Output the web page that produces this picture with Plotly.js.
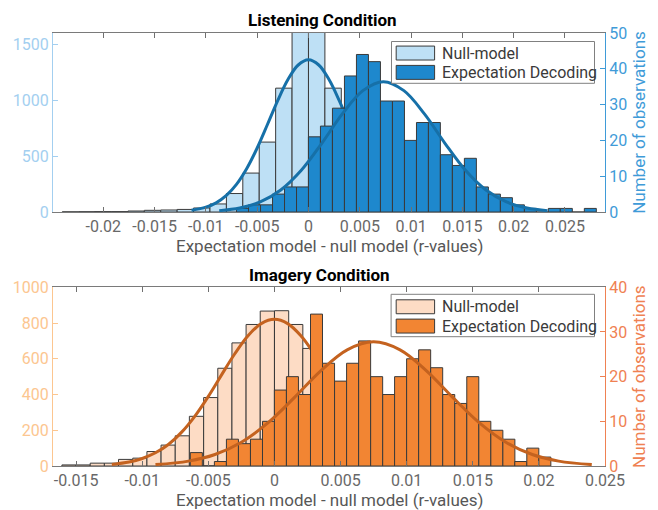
<!DOCTYPE html>
<html>
<head>
<meta charset="utf-8">
<script src="https://cdn.plot.ly/plotly-3.0.1.min.js"></script>
<style>
  html, body { margin: 0; padding: 0; background: #ffffff; }
  #chart { width: 658px; height: 510px; }
</style>
</head>
<body>
<div id="chart"></div>
<script>
// ---------- Listening condition ----------
// Null-model histogram (bin centres, counts; bin width 0.0016)
const listenNullWidth = 0.0016;
const listenNullX = [-0.0232, -0.0216, -0.0200, -0.0184, -0.0168, -0.0152, -0.0136, -0.0120,
  -0.0104, -0.0088, -0.0072, -0.0056, -0.0040, -0.0024, -0.0008, 0.0008, 0.0024, 0.0040,
  0.0056, 0.0072, 0.0088, 0.0104, 0.0120];
const listenNullN = [1, 2, 3, 3, 9, 15, 18, 23, 36, 72, 165, 348, 625, 1107, 1640, 1620, 1107, 610,
  330, 150, 70, 30, 15];

// Expectation decoding histogram (bin width 0.001169)
const listenExpWidth = 0.001169;
const listenExpX = [-0.00643, -0.00526, -0.00409, -0.00292, -0.00175, -0.00058, 0.00058, 0.00175,
  0.00292, 0.00409, 0.00526, 0.00643, 0.00760, 0.00877, 0.00994, 0.01111, 0.01227, 0.01344,
  0.01461, 0.01578, 0.01695, 0.01812, 0.01929, 0.02046, 0.02163, 0.02280, 0.02396, 0.02513,
  0.02630, 0.02747];
const listenExpN = [1, 2, 2, 5, 7, 7, 21, 24, 29, 38, 44, 42, 31, 31, 20, 25, 25, 16, 13, 15, 7, 5,
  4, 2, 1, 0, 1, 1, 0, 1];

// Normal fits drawn over each histogram
const listenNullFitX = [-0.0114, -0.010, -0.009, -0.008, -0.007, -0.006, -0.005, -0.004, -0.003,
  -0.002, -0.001, 0, 0.001, 0.002, 0.003, 0.004, 0.005, 0.006, 0.007, 0.008, 0.009, 0.010, 0.0114];
const listenNullFitY = [15, 43, 82, 148, 249, 391, 572, 782, 996, 1184, 1314, 1360, 1314, 1184, 996,
  782, 572, 391, 249, 148, 82, 43, 15];
const listenExpFitX = [-0.0087, -0.0067, -0.0047, -0.0027, -0.0007, 0.0013, 0.0033, 0.0053, 0.0073,
  0.0093, 0.0113, 0.0133, 0.0153, 0.0173, 0.0193, 0.0213, 0.0233];
const listenExpFitY = [0.38, 1.11, 2.81, 6.14, 11.65, 19.2, 27.4, 33.9, 36.4, 33.9, 27.4, 19.2, 11.65,
  6.14, 2.81, 1.11, 0.38];

// ---------- Imagery condition ----------
const imageryNullWidth = 0.001072;
const imageryNullX = [-0.01554, -0.01447, -0.01340, -0.01233, -0.01126, -0.01018, -0.00911, -0.00804,
  -0.00697, -0.00590, -0.00482, -0.00375, -0.00268, -0.00161, -0.00054, 0.00054, 0.00161, 0.00268,
  0.00375, 0.00482, 0.00590, 0.00697, 0.00804, 0.00911, 0.01018];
const imageryNullN = [6, 6, 16, 16, 37, 44, 81, 117, 169, 278, 383, 547, 689, 792, 867, 869, 792, 658,
  520, 380, 260, 160, 90, 45, 20];

const imageryExpWidth = 0.000909;
const imageryExpX = [-0.00591, -0.00500, -0.00409, -0.00318, -0.00227, -0.00136, -0.00045, 0.00045,
  0.00136, 0.00227, 0.00318, 0.00409, 0.00500, 0.00591, 0.00682, 0.00773, 0.00864, 0.00954,
  0.01045, 0.01136, 0.01227, 0.01318, 0.01409, 0.01500, 0.01591, 0.01682, 0.01773, 0.01863,
  0.01954, 0.02045];
const imageryExpN = [3, 0, 1, 6, 5, 6, 10, 17, 20, 16, 34, 23, 19, 23, 28, 20, 16, 20, 24, 26, 22, 16,
  14, 20, 10, 8, 6, 1, 4, 2];

const imageryNullFitX = [-0.0123, -0.011, -0.010, -0.009, -0.008, -0.007, -0.006, -0.005, -0.004,
  -0.003, -0.002, -0.001, 0, 0.001, 0.002, 0.003, 0.004, 0.005, 0.006, 0.007, 0.008, 0.009, 0.010,
  0.011, 0.0123];
const imageryNullFitY = [9, 22, 42, 74, 122, 191, 281, 390, 510, 628, 729, 797, 821, 797, 729, 628, 510,
  390, 281, 191, 122, 74, 42, 22, 9];
const imageryExpFitX = [-0.009, -0.0065, -0.0045, -0.0025, -0.0005, 0.0015, 0.0035, 0.0055, 0.0075,
  0.0095, 0.0115, 0.0135, 0.0155, 0.0175, 0.0195, 0.0215, 0.024];
const imageryExpFitY = [0.31, 1.09, 2.57, 5.32, 9.65, 15.3, 21.3, 26.0, 27.8, 26.0, 21.3, 15.3, 9.65,
  5.32, 2.57, 1.09, 0.31];

// ---------- Ticks and labels ----------
const listenTickVals = [-0.02, -0.015, -0.01, -0.005, 0, 0.005, 0.01, 0.015, 0.02, 0.025];
const listenTickText = ['-0.02', '-0.015', '-0.01', '-0.005', '0', '0.005', '0.01', '0.015', '0.02', '0.025'];
const imageryTickVals = [-0.015, -0.01, -0.005, 0, 0.005, 0.01, 0.015, 0.02, 0.025];
const imageryTickText = ['-0.015', '-0.01', '-0.005', '0', '0.005', '0.01', '0.015', '0.02', '0.025'];
const listenCountTicks = [0, 500, 1000, 1500];
const listenObsTicks = [0, 10, 20, 30, 40, 50];
const imageryCountTicks = [0, 200, 400, 600, 800, 1000];
const imageryObsTicks = [0, 10, 20, 30, 40];
const panelTitles = ['Listening Condition', 'Imagery Condition'];
const legendLabels = ['Null-model', 'Expectation Decoding'];
const xTitle = 'Expectation model - null model (r-values)';
const obsTitle = 'Number of observations';

// ---------- Styling ----------
const FONT = "Roboto, 'DejaVu Sans', sans-serif";
const EDGE = '#3a3a3a';
const blue = { light: '#bee0f5', dark: '#1e88cd', fit: '#1670a8', leftAxis: '#a3cff0', rightAxis: '#3f9bd8' };
const orange = { light: '#fddcc5', dark: '#f28533', fit: '#c4621f', leftAxis: '#fcc690', rightAxis: '#ef8152' };

function bars(x, y, w, fill, xa, ya) {
  return { type: 'bar', x: x, y: y, width: w, xaxis: xa, yaxis: ya,
    marker: { color: fill, line: { color: EDGE, width: 1 } },
    showlegend: false, hoverinfo: 'skip' };
}
function fitLine(x, y, color, xa, ya) {
  return { type: 'scatter', mode: 'lines', x: x, y: y, xaxis: xa, yaxis: ya,
    line: { color: color, width: 3, shape: 'spline', smoothing: 1 },
    showlegend: false, hoverinfo: 'skip' };
}

const traces = [
  bars(listenNullX, listenNullN, listenNullWidth, blue.light, 'x', 'y'),
  fitLine(listenNullFitX, listenNullFitY, blue.fit, 'x', 'y'),
  bars(listenExpX, listenExpN, listenExpWidth, blue.dark, 'x', 'y2'),
  fitLine(listenExpFitX, listenExpFitY, blue.fit, 'x', 'y2'),
  bars(imageryNullX, imageryNullN, imageryNullWidth, orange.light, 'x2', 'y3'),
  fitLine(imageryNullFitX, imageryNullFitY, orange.fit, 'x2', 'y3'),
  bars(imageryExpX, imageryExpN, imageryExpWidth, orange.dark, 'x2', 'y4'),
  fitLine(imageryExpFitX, imageryExpFitY, orange.fit, 'x2', 'y4')
];

function xAxis(range, vals, text, anchor) {
  return { anchor: anchor, domain: [0, 1], range: range, tickmode: 'array', tickvals: vals, ticktext: text,
    ticks: 'inside', ticklen: 5, tickcolor: '#707070', showline: true, linecolor: '#7a7a7a', linewidth: 1,
    mirror: 'ticks', showgrid: false, zeroline: false,
    tickfont: { family: FONT, size: 16, color: '#686868' } };
}
function leftAxis(domain, range, vals, color, anchor) {
  return { anchor: anchor, domain: domain, range: range, tickmode: 'array', tickvals: vals,
    ticks: 'inside', ticklen: 5, tickcolor: color, showline: true, linecolor: color, linewidth: 1,
    showgrid: false, zeroline: false, tickfont: { family: FONT, size: 16, color: color } };
}
function rightAxis(over, range, vals, color, anchor) {
  return { overlaying: over, side: 'right', anchor: anchor, range: range, tickmode: 'array', tickvals: vals,
    ticks: 'inside', ticklen: 5, tickcolor: color, showline: true, linecolor: color, linewidth: 1,
    showgrid: false, zeroline: false, tickfont: { family: FONT, size: 16, color: color },
    title: { text: obsTitle, font: { family: FONT, size: 17, color: color }, standoff: 6 } };
}

// Legend box for one panel, placed in that panel's domain coordinates
function legendParts(xr, yr, box, rows, lightFill, darkFill) {
  const shapes = [
    { type: 'rect', xref: xr, yref: yr, x0: box[0], x1: box[1], y0: box[2], y1: box[3],
      fillcolor: '#ffffff', line: { color: '#808080', width: 1 } },
    { type: 'rect', xref: xr, yref: yr, x0: 0.6217, x1: 0.6913, y0: rows[0] - 0.039, y1: rows[0] + 0.039,
      fillcolor: lightFill, line: { color: EDGE, width: 1 } },
    { type: 'rect', xref: xr, yref: yr, x0: 0.6217, x1: 0.6913, y0: rows[1] - 0.039, y1: rows[1] + 0.039,
      fillcolor: darkFill, line: { color: EDGE, width: 1 } }
  ];
  const notes = legendLabels.map((t, i) => ({
    xref: xr, yref: yr, x: 0.7005, y: rows[i], xanchor: 'left', yanchor: 'middle', showarrow: false,
    text: t, font: { family: FONT, size: 16, color: '#3a3a3a' } }));
  return { shapes: shapes, notes: notes };
}

const topLegend = legendParts('x domain', 'y domain', [0.6132, 0.981, 0.719, 0.9525], [0.888, 0.780],
  blue.light, blue.dark);
const bottomLegend = legendParts('x2 domain', 'y3 domain', [0.6125, 0.981, 0.7236, 0.9608], [0.891, 0.783],
  orange.light, orange.dark);

// Panel titles and the shared x-axis caption under each panel
const titleNotes = [
  { xref: 'paper', yref: 'paper', x: 0.488, y: 1.030, xanchor: 'center', yanchor: 'middle', showarrow: false,
    text: '<b>' + panelTitles[0] + '</b>', font: { family: FONT, size: 17, weight: 900, color: '#000000' } },
  { xref: 'paper', yref: 'paper', x: 0.483, y: 0.441, xanchor: 'center', yanchor: 'middle', showarrow: false,
    text: '<b>' + panelTitles[1] + '</b>', font: { family: FONT, size: 17, weight: 900, color: '#000000' } },
  { xref: 'paper', yref: 'paper', x: 0.5, y: 0.508, xanchor: 'center', yanchor: 'middle', showarrow: false,
    text: xTitle, font: { family: FONT, size: 17, color: '#575757' } },
  { xref: 'paper', yref: 'paper', x: 0.5, y: -0.079, xanchor: 'center', yanchor: 'middle', showarrow: false,
    text: xTitle, font: { family: FONT, size: 17, color: '#575757' } }
];

const layout = {
  width: 658, height: 510,
  margin: { l: 53, r: 53, t: 33, b: 44, pad: 0 },
  paper_bgcolor: '#ffffff', plot_bgcolor: '#ffffff',
  font: { family: FONT, size: 16, color: '#555555' },
  barmode: 'overlay', bargap: 0,
  showlegend: false,
  xaxis: xAxis([-0.0249, 0.0289], listenTickVals, listenTickText, 'y'),
  yaxis: leftAxis([0.5866, 1], [0, 1600], listenCountTicks, blue.leftAxis, 'x'),
  yaxis2: rightAxis('y', [0, 50], listenObsTicks, blue.rightAxis, 'x'),
  xaxis2: xAxis([-0.01675, 0.025], imageryTickVals, imageryTickText, 'y3'),
  yaxis3: leftAxis([0, 0.4127], [0, 1000], imageryCountTicks, orange.leftAxis, 'x2'),
  yaxis4: rightAxis('y3', [0, 40], imageryObsTicks, orange.rightAxis, 'x2'),
  shapes: topLegend.shapes.concat(bottomLegend.shapes),
  annotations: titleNotes.concat(topLegend.notes, bottomLegend.notes)
};

Plotly.newPlot('chart', traces, layout, { displayModeBar: false, staticPlot: true });
</script>
</body>
</html>
